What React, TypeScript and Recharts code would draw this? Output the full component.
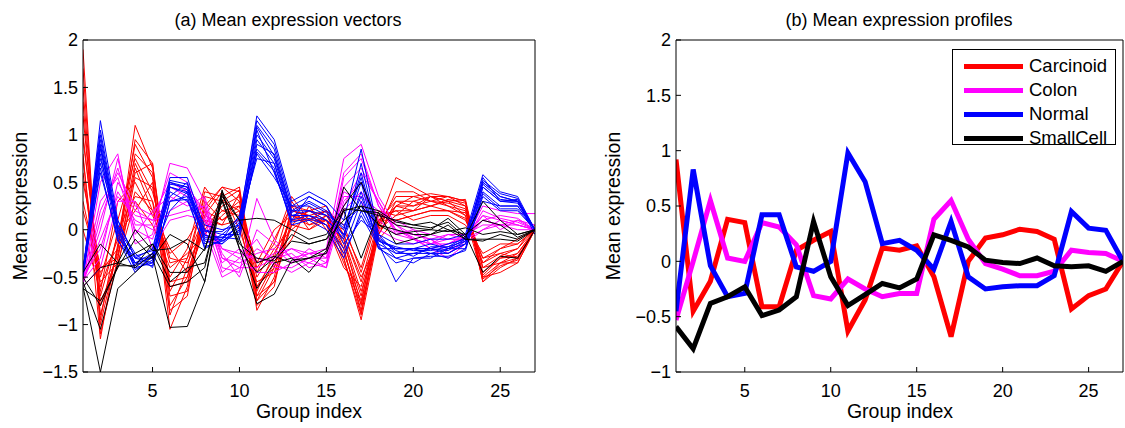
import React from 'react';
import { LineChart, Line, XAxis, YAxis } from 'recharts';

const groups = [1, 2, 3, 4, 5, 6, 7, 8, 9, 10, 11, 12, 13, 14, 15, 16, 17, 18, 19, 20, 21, 22, 23, 24, 25, 26, 27];
const xTicks = [5, 10, 15, 20, 25];
const yTicksA = [-1.5, -1, -0.5, 0, 0.5, 1, 1.5, 2];
const yTicksB = [-1, -0.5, 0, 0.5, 1, 1.5, 2];

// (a) individual expression vectors, one row per sample
const carcinoidSamples = [
  [1.90, -1.10, -0.30, 0.60, 0.70, -0.80, -0.50, 0.20, 0.45, 0.40, -0.85, -0.50, 0.20, 0.15, 0.20, -0.30, -0.95, -0.05, 0.30, 0.30, 0.35, 0.35, 0.30, -0.55, -0.40, -0.30, 0.00],
  [1.50, -0.90, -0.20, 1.10, 0.65, -0.60, -0.55, 0.05, 0.30, 0.42, -0.75, -0.40, 0.15, 0.10, 0.10, -0.20, -0.85, 0.05, 0.55, 0.45, 0.35, 0.30, 0.32, -0.50, -0.35, -0.35, 0.00],
  [1.00, -0.60, -0.10, 0.90, 0.55, -1.05, -0.60, 0.30, 0.10, 0.20, -0.70, -0.55, 0.10, 0.20, 0.15, -0.10, -0.80, -0.05, 0.25, 0.25, 0.30, 0.25, 0.20, -0.48, -0.30, -0.25, 0.00],
  [0.95, -0.50, 0.10, 0.75, 0.40, -0.30, -0.35, 0.00, 0.25, 0.35, -0.60, -0.30, 0.30, 0.05, 0.15, -0.15, -0.70, 0.10, 0.20, 0.20, 0.35, 0.30, 0.25, -0.40, -0.28, -0.20, 0.00],
  [0.75, -0.80, -0.25, 0.40, 0.20, -0.50, -0.20, 0.45, 0.20, 0.25, -0.50, -0.20, 0.00, 0.15, 0.05, -0.40, -0.60, 0.00, 0.15, 0.30, 0.25, 0.30, 0.15, -0.35, -0.25, -0.30, 0.00],
  [0.50, -0.40, -0.30, 0.65, 0.20, -0.20, -0.45, 0.10, 0.05, 0.10, -0.80, -0.60, 0.25, 0.20, 0.25, -0.05, -0.50, -0.10, 0.10, 0.15, 0.20, 0.20, 0.10, -0.30, -0.20, -0.10, 0.00],
  [1.20, -0.70, -0.05, 0.20, 0.50, -0.70, -0.65, 0.15, 0.40, 0.00, -0.55, -0.45, 0.05, 0.00, 0.10, -0.25, -0.75, 0.05, 0.25, 0.35, 0.38, 0.35, 0.25, -0.50, -0.45, -0.35, 0.00],
  [0.30, -0.55, -0.35, 0.30, 0.05, -0.40, -0.25, -0.05, 0.15, 0.30, -0.40, -0.15, 0.35, 0.10, 0.20, 0.05, -0.45, 0.15, 0.20, 0.10, 0.15, 0.15, 0.05, -0.25, -0.15, -0.15, 0.00],
  [0.80, -1.15, -0.15, 0.80, 0.60, -0.90, -0.40, 0.40, 0.35, 0.45, -0.70, -0.35, -0.10, 0.25, 0.00, -0.30, -0.90, 0.00, 0.40, 0.40, 0.30, 0.35, 0.30, -0.55, -0.35, -0.30, 0.00],
  [0.00, -0.65, 0.30, 0.50, 0.15, -0.25, -0.10, 0.20, 0.10, 0.25, -0.35, 0.00, 0.15, 0.05, 0.10, 0.00, -0.40, 0.20, 0.15, 0.20, 0.25, 0.20, 0.18, -0.30, -0.25, -0.20, 0.05],
  [1.70, -1.00, -0.20, 0.95, 0.70, -0.65, -0.30, 0.35, 0.30, 0.20, -0.65, -0.25, 0.10, 0.10, 0.20, -0.20, -0.88, 0.05, 0.35, 0.35, 0.30, 0.28, 0.22, -0.45, -0.30, -0.28, 0.00],
  [0.60, -0.75, -0.40, 0.55, 0.45, -0.55, -0.50, 0.00, 0.20, 0.15, -0.60, -0.40, 0.20, 0.15, 0.05, -0.10, -0.65, -0.05, 0.25, 0.20, 0.25, 0.32, 0.28, -0.40, -0.35, -0.25, 0.00],
  [1.35, -0.95, 0.00, 0.35, 0.30, -0.85, -0.70, 0.25, 0.45, 0.30, -0.75, -0.55, 0.05, 0.20, 0.10, -0.35, -0.78, 0.10, 0.30, 0.25, 0.35, 0.25, 0.15, -0.52, -0.38, -0.32, 0.00],
  [0.20, -0.45, -0.20, 0.70, 0.30, -0.35, -0.30, 0.15, 0.05, 0.38, -0.45, -0.10, 0.25, 0.00, 0.15, -0.05, -0.55, 0.10, 0.10, 0.15, 0.20, 0.20, 0.12, -0.35, -0.20, -0.15, 0.00],
];

const colonSamples = [
  [-0.55, 0.50, 0.80, -0.15, -0.05, 0.70, 0.65, 0.30, -0.40, -0.45, 0.33, -0.10, -0.30, -0.25, -0.20, 0.75, 0.90, 0.35, 0.05, -0.05, -0.10, -0.20, -0.10, 0.25, 0.20, 0.17, 0.17],
  [-0.58, 0.20, 0.60, 0.25, 0.15, 0.50, 0.40, 0.20, -0.20, -0.25, -0.30, -0.35, -0.45, -0.35, -0.40, 0.55, 0.75, 0.25, 0.00, -0.10, -0.15, -0.15, -0.05, 0.15, 0.10, 0.05, 0.00],
  [-0.50, -0.20, 0.40, 0.10, 0.00, 0.20, 0.30, 0.00, -0.50, -0.40, -0.20, -0.30, -0.25, -0.40, -0.35, 0.30, 0.50, 0.10, -0.05, -0.10, -0.20, -0.30, -0.15, 0.00, 0.05, 0.00, 0.00],
  [-0.55, 0.00, 0.75, -0.05, 0.20, 0.35, 0.25, 0.35, -0.30, -0.35, -0.25, -0.20, -0.35, -0.20, -0.30, 0.20, 0.40, 0.15, 0.10, 0.00, -0.05, -0.10, -0.10, 0.10, 0.05, 0.10, 0.00],
  [-0.60, -0.40, 0.30, 0.30, -0.20, 0.10, 0.15, 0.10, -0.20, -0.30, -0.45, -0.45, -0.35, -0.25, -0.25, 0.40, 0.30, 0.00, -0.10, -0.15, -0.10, -0.05, -0.05, 0.05, 0.05, 0.05, 0.00],
  [-0.52, 0.30, 0.55, 0.00, -0.10, 0.45, 0.35, 0.15, -0.35, -0.20, -0.35, -0.25, -0.20, -0.30, -0.40, 0.25, 0.60, 0.30, -0.05, 0.00, -0.15, -0.10, -0.10, 0.15, 0.00, 0.10, 0.05],
  [-0.55, -0.10, 0.35, 0.15, 0.10, 0.15, 0.20, 0.25, -0.25, -0.50, 0.00, -0.15, -0.30, -0.35, -0.25, 0.35, 0.35, 0.20, 0.05, -0.10, -0.15, -0.05, -0.10, 0.00, 0.10, 0.05, 0.00],
  [-0.57, 0.10, 0.65, 0.05, 0.05, 0.60, 0.50, 0.10, -0.45, -0.30, -0.10, -0.40, -0.40, -0.30, -0.30, 0.60, 0.80, 0.25, -0.02, -0.05, -0.10, -0.25, -0.12, 0.20, 0.12, 0.08, 0.00],
  [-0.54, -0.30, 0.50, 0.20, 0.10, 0.30, 0.45, 0.20, -0.30, -0.40, -0.40, -0.30, -0.20, -0.25, -0.35, 0.45, 0.65, 0.30, 0.00, -0.08, -0.20, -0.15, -0.08, 0.10, 0.15, 0.12, 0.00],
];

const normalSamples = [
  [-0.50, 1.15, 0.10, -0.30, -0.20, 0.55, 0.55, 0.00, -0.05, 0.10, 1.20, 0.95, 0.30, 0.40, 0.30, 0.10, 0.85, -0.05, -0.15, -0.15, -0.10, -0.10, -0.05, 0.58, 0.40, 0.35, 0.00],
  [-0.45, 1.00, 0.00, -0.35, -0.30, 0.50, 0.45, -0.10, -0.10, 0.05, 1.10, 0.85, 0.20, 0.30, 0.20, 0.00, 0.60, -0.10, -0.20, -0.20, -0.15, -0.20, -0.10, 0.50, 0.35, 0.30, 0.00],
  [-0.48, 0.90, -0.05, -0.40, -0.35, 0.45, 0.40, -0.05, -0.15, 0.00, 1.00, 0.75, 0.15, 0.20, 0.10, -0.10, 0.40, -0.15, -0.25, -0.25, -0.25, -0.25, -0.15, 0.45, 0.30, 0.28, 0.00],
  [-0.42, 0.80, -0.10, -0.45, -0.25, 0.35, 0.50, -0.15, -0.05, -0.05, 0.95, 0.70, 0.10, 0.15, 0.05, -0.20, 0.30, -0.20, -0.30, -0.25, -0.20, -0.25, -0.15, 0.40, 0.25, 0.25, 0.00],
  [-0.40, 0.70, 0.05, -0.25, -0.40, 0.30, 0.35, -0.20, -0.10, 0.15, 0.85, 0.65, 0.05, 0.10, 0.00, -0.30, 0.20, -0.15, -0.55, -0.30, -0.30, -0.20, -0.20, 0.35, 0.20, 0.20, 0.00],
  [-0.46, 0.60, -0.08, -0.30, -0.30, 0.40, 0.30, 0.00, -0.12, 0.00, 0.80, 0.55, 0.25, 0.25, 0.15, 0.05, 0.25, -0.10, -0.30, -0.35, -0.25, -0.30, -0.20, 0.45, 0.30, 0.32, 0.00],
  [-0.50, 0.85, 0.00, -0.35, -0.25, 0.20, 0.40, -0.08, -0.08, -0.10, 0.90, 0.80, 0.20, 0.20, 0.15, -0.05, 0.50, -0.20, -0.20, -0.20, -0.20, -0.15, -0.10, 0.50, 0.35, 0.30, 0.00],
  [-0.44, 0.95, -0.02, -0.38, -0.28, 0.50, 0.42, 0.05, 0.00, 0.05, 1.05, 0.60, 0.10, 0.35, 0.25, -0.15, 0.10, -0.05, -0.25, -0.20, -0.25, -0.20, -0.15, 0.30, 0.25, 0.25, 0.00],
  [-0.47, 0.75, 0.10, -0.30, -0.35, 0.45, 0.38, -0.12, -0.15, 0.08, 0.75, 0.70, 0.15, 0.15, 0.10, -0.05, 0.35, -0.12, -0.20, -0.20, -0.20, -0.22, -0.12, 0.55, 0.30, 0.30, -0.05],
  [-0.43, 1.05, 0.05, -0.42, -0.32, 0.52, 0.48, -0.02, -0.02, 0.12, 1.15, 0.90, 0.25, 0.35, 0.25, -0.08, 0.70, -0.08, -0.22, -0.28, -0.18, -0.18, -0.08, 0.52, 0.38, 0.33, 0.00],
  [-0.49, 0.65, -0.12, -0.35, -0.38, 0.30, 0.32, -0.18, -0.12, -0.02, 0.82, 0.62, 0.08, 0.12, 0.05, -0.25, 0.15, -0.18, -0.35, -0.30, -0.28, -0.28, -0.22, 0.38, 0.22, 0.22, 0.00],
  [-0.46, 0.88, 0.02, -0.28, -0.22, 0.48, 0.45, -0.06, -0.08, 0.02, 1.08, 0.78, 0.18, 0.28, 0.18, 0.02, 0.55, -0.12, -0.18, -0.22, -0.22, -0.18, -0.12, 0.48, 0.32, 0.30, 0.00],
];

const smallCellSamples = [
  [-0.60, -1.50, -0.62, -0.45, -0.28, -1.03, -1.02, -0.55, 0.42, -0.20, -0.78, -0.68, -0.32, -0.30, -0.25, 0.22, 0.20, 0.18, 0.05, 0.02, 0.00, 0.12, -0.05, -0.45, -0.28, -0.30, 0.00],
  [-0.55, -1.05, -0.35, -0.40, -0.25, -0.60, -0.55, -0.40, 0.38, -0.10, -0.62, -0.35, -0.30, -0.45, -0.22, 0.45, 0.20, 0.15, 0.10, 0.05, 0.02, 0.08, -0.08, 0.30, 0.10, -0.05, 0.00],
  [-0.50, -0.80, -0.38, -0.38, -0.15, -0.45, -0.45, -0.20, 0.30, -0.20, -0.45, -0.30, -0.05, -0.15, -0.10, 0.25, 0.50, 0.05, 0.00, -0.05, -0.05, 0.00, -0.10, -0.10, -0.10, -0.12, 0.00],
  [-0.62, -0.75, -0.40, -0.10, -0.30, -0.05, -0.15, -0.55, 0.35, 0.10, -0.35, -0.28, -0.35, -0.30, -0.20, 0.20, 0.25, 0.20, 0.08, 0.05, 0.08, 0.00, -0.05, 0.10, 0.05, -0.08, 0.00],
  [-0.60, -0.40, -0.35, 0.00, -0.22, -0.20, -0.10, -0.22, 0.40, 0.10, 0.12, 0.10, 0.00, -0.10, -0.05, 0.20, -0.30, 0.18, -0.15, -0.10, -0.05, 0.05, -0.10, -0.12, -0.05, -0.10, 0.00],
  [-0.45, -0.15, -0.35, -0.25, -0.15, -0.55, -0.40, -0.35, 0.32, -0.15, -0.30, -0.33, -0.12, -0.15, -0.10, 0.10, 0.25, 0.05, -0.05, -0.02, 0.00, -0.02, 0.02, -0.05, -0.02, -0.05, 0.00],
];

// (b) mean profile per class
const carcinoidMean = [0.92, -0.45, -0.18, 0.38, 0.35, -0.41, -0.41, 0.10, 0.19, 0.27, -0.63, -0.35, 0.12, 0.10, 0.14, -0.14, -0.68, 0.00, 0.21, 0.24, 0.29, 0.27, 0.20, -0.43, -0.31, -0.25, 0.00];
const colonMean = [-0.53, 0.00, 0.55, 0.03, 0.00, 0.35, 0.31, 0.15, -0.31, -0.34, -0.16, -0.25, -0.32, -0.29, -0.29, 0.38, 0.55, 0.20, -0.02, -0.07, -0.13, -0.13, -0.09, 0.10, 0.08, 0.07, 0.00];
const normalMean = [-0.45, 0.83, -0.04, -0.32, -0.29, 0.42, 0.42, -0.05, -0.09, 0.00, 0.98, 0.72, 0.16, 0.19, 0.10, -0.07, 0.36, -0.14, -0.25, -0.23, -0.22, -0.22, -0.13, 0.45, 0.30, 0.28, 0.00];
const smallCellMean = [-0.59, -0.79, -0.38, -0.32, -0.23, -0.49, -0.44, -0.32, 0.36, -0.14, -0.40, -0.30, -0.20, -0.24, -0.16, 0.24, 0.19, 0.13, 0.01, -0.01, -0.02, 0.03, -0.04, -0.05, -0.04, -0.09, 0.00];

const classes = [
  { name: 'Carcinoid', color: '#ff0000', key: 'car', samples: carcinoidSamples, mean: carcinoidMean },
  { name: 'Colon', color: '#ff00ff', key: 'col', samples: colonSamples, mean: colonMean },
  { name: 'Normal', color: '#0000ff', key: 'nor', samples: normalSamples, mean: normalMean },
  { name: 'SmallCell', color: '#000000', key: 'sc', samples: smallCellSamples, mean: smallCellMean },
];

const rows = groups.map((g, i) => {
  const row: Record<string, number> = { g };
  classes.forEach((c) => {
    c.samples.forEach((s, j) => { row[`${c.key}${j}`] = s[i]; });
    row[`${c.key}Mean`] = c.mean[i];
  });
  return row;
});

const FONT = '"Liberation Sans", Arial, Helvetica, sans-serif';
const FS = 18;
const LABEL_FS = 19.5;
const fmt = (v: number) => (v < 0 ? '\u2212' + Math.abs(v) : String(v));
const tickStyle = { fill: '#000', fontSize: FS, fontFamily: FONT };

// one MATLAB-style boxed axes; top/right axes only draw the frame + inward ticks
const Panel = ({ left, width, plotLeft, plotRight, yTicks, yDomain, children }: any) => (
  <div style={{ position: 'absolute', left, top: 0 }}>
    <LineChart width={width} height={428} data={rows}
      margin={{ top: 39, right: width - plotRight - 1, bottom: 0, left: 0 }}>
      <XAxis dataKey="g" type="number" domain={[1, 27]} ticks={xTicks} allowDataOverflow
        height={56} tickSize={-5} tickMargin={17} stroke="#000" tick={tickStyle} />
      <XAxis xAxisId="top" orientation="top" type="number" domain={[1, 27]} ticks={xTicks} allowDataOverflow
        height={1} tickSize={-5} tick={false} stroke="#000" />
      <YAxis type="number" domain={yDomain} ticks={yTicks} allowDataOverflow width={plotLeft}
        tickSize={-5} tickMargin={10} stroke="#000" tick={tickStyle} tickFormatter={fmt} />
      <YAxis yAxisId="right" orientation="right" type="number" domain={yDomain} ticks={yTicks} allowDataOverflow
        width={1} tickSize={-5} tick={false} stroke="#000" />
      {children}
    </LineChart>
  </div>
);

const textStyle: React.CSSProperties = {
  position: 'absolute', fontFamily: FONT, fontSize: FS, lineHeight: `${FS}px`, color: '#000', whiteSpace: 'nowrap',
};
const labelStyle: React.CSSProperties = { ...textStyle, fontSize: LABEL_FS, lineHeight: `${LABEL_FS}px` };

export default function App() {
  return (
    <div style={{ position: 'absolute', left: 0, top: 0, width: 1125, height: 428, background: '#fff', overflow: 'hidden' }}>
      <Panel left={0} width={560} plotLeft={83} plotRight={535} yTicks={yTicksA} yDomain={[-1.5, 2]}>
        {classes.flatMap((c) => c.samples.map((_, j) => (
          <Line key={`${c.key}${j}`} dataKey={`${c.key}${j}`} type="linear" stroke={c.color} strokeWidth={1}
            dot={false} activeDot={false} isAnimationActive={false} />
        )))}
      </Panel>
      <Panel left={560} width={565} plotLeft={116} plotRight={563} yTicks={yTicksB} yDomain={[-1, 2]}>
        {classes.map((c) => (
          <Line key={c.key} dataKey={`${c.key}Mean`} name={c.name} type="linear" stroke={c.color} strokeWidth={5}
            dot={false} activeDot={false} isAnimationActive={false} />
        ))}
      </Panel>

      <div style={{ ...textStyle, left: 288, top: 11, transform: 'translateX(-50%)' }}>(a) Mean expression vectors</div>
      <div style={{ ...textStyle, left: 899, top: 11, transform: 'translateX(-50%)' }}>(b) Mean expression profiles</div>
      <div style={{ ...labelStyle, left: 309, top: 402, transform: 'translateX(-50%)' }}>Group index</div>
      <div style={{ ...labelStyle, left: 900, top: 402, transform: 'translateX(-50%)' }}>Group index</div>
      <div style={{ ...labelStyle, left: 21, top: 206, transform: 'translate(-50%, -50%) rotate(-90deg)' }}>Mean expression</div>
      <div style={{ ...labelStyle, left: 614, top: 206, transform: 'translate(-50%, -50%) rotate(-90deg)' }}>Mean expression</div>

      <div style={{ position: 'absolute', left: 952, top: 49, width: 164, height: 96, border: '1px solid #000', background: '#fff', boxSizing: 'border-box' }}>
        {classes.map((c, i) => (
          <div key={c.key} style={{ position: 'absolute', left: 0, top: 4 + i * 24, height: 24, display: 'flex', alignItems: 'center' }}>
            <div style={{ marginLeft: 11, width: 59, height: 5, background: c.color }} />
            <span style={{ marginLeft: 6, fontFamily: FONT, fontSize: 18.5, color: '#000' }}>{c.name}</span>
          </div>
        ))}
      </div>
    </div>
  );
}
